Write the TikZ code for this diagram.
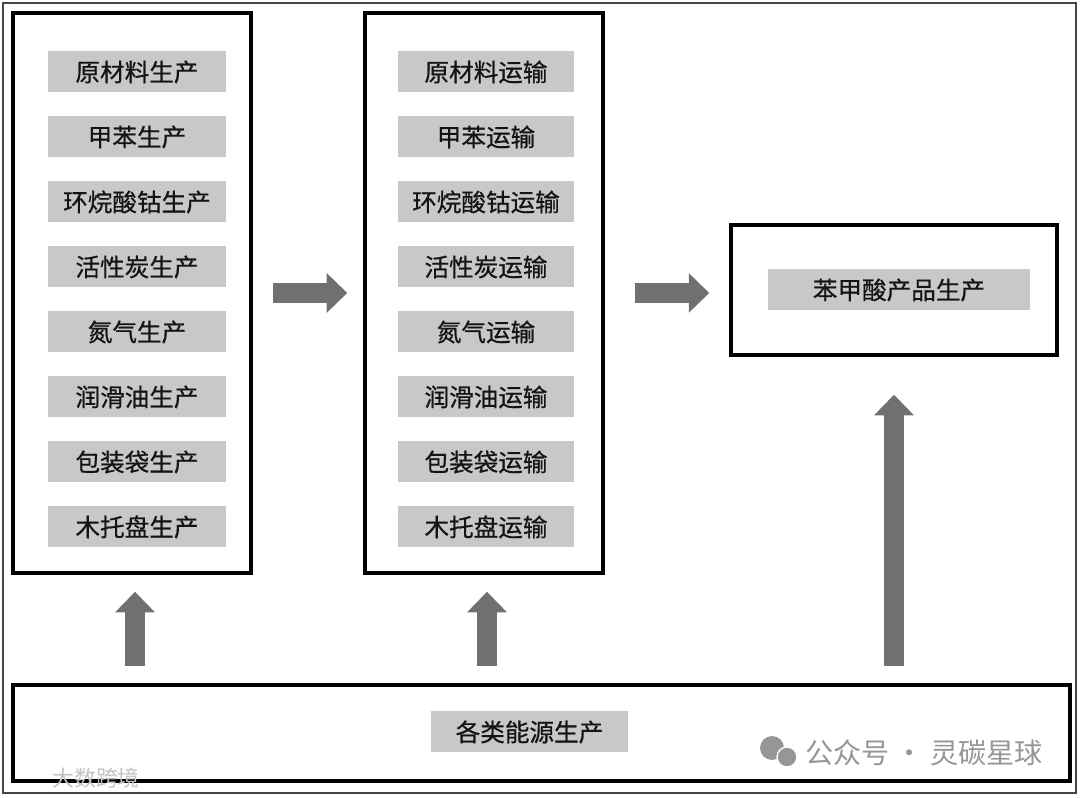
\documentclass[tikz,border=0pt]{standalone}
\usepackage{fontspec}
\usepackage{xcolor}
\usepackage{tikz}
\usetikzlibrary{arrows.meta}
\newfontfamily\cjk[FakeBold=0.6]{Noto Sans CJK SC}
\newfontfamily\cjkthin{Noto Sans CJK SC}
\definecolor{tagfill}{RGB}{200, 200, 200}
\definecolor{arrowgray}{RGB}{112, 112, 112}
\definecolor{framegray}{RGB}{70, 70, 70}
\definecolor{inkblack}{RGB}{20, 20, 20}
\definecolor{markgray}{RGB}{150, 150, 150}
\definecolor{marklight}{RGB}{195, 195, 195}

\tikzset{
  stagebox/.style={draw=black, line width=2pt, inner sep=0pt},
  tag/.style={fill=tagfill, text=inkblack, inner sep=0pt,
    minimum width=3.56cm, minimum height=0.82cm},
  blockarrow/.style={draw=arrowgray, line width=0.39cm,
    -{Triangle[width=0.77cm, length=0.41cm]}},
  watermark/.style={text=markgray, font=\cjkthin\fontsize{16}{18}\selectfont}
}

\begin{document}
\begin{tikzpicture}[font=\cjk\fontsize{14}{16}\selectfont]
        \useasboundingbox (0,0) rectangle (21.6,15.94);
        \draw[framegray, line width=0.8pt] (0.06,0.08) rectangle (21.52,15.88);
        % the four frames
        \node[stagebox, minimum width=4.76cm, minimum height=11.2cm] (leftbox) at (2.64,10.08) {};
        \node[stagebox, minimum width=4.76cm, minimum height=11.2cm] (midbox) at (9.68,10.08) {};
        \node[stagebox, minimum width=6.52cm, minimum height=2.6cm] (prodbox) at (17.88,10.14) {};
        \node[stagebox, minimum width=21.14cm, minimum height=1.92cm] (energybox) at (10.83,1.28) {};
        % stage items
        \foreach \mat [count=\i] in {原材料,甲苯,环烷酸钴,活性炭,氮气,润滑油,包装袋,木托盘} {
          \node[tag] (make\i) at (2.74,15.8-1.3*\i) {\mat 生产};
          \node[tag, minimum width=3.52cm] (move\i) at (9.72,15.8-1.3*\i) {\mat 运输};
        }
        \node[tag, minimum width=5.24cm] (acid) at (17.98,10.14) {苯甲酸产品生产};
        \node[tag, minimum width=3.94cm] (energy) at (10.59,1.3) {各类能源生产};
        % flows
        \draw[blockarrow, shorten <=0.4cm, shorten >=0.32cm] (leftbox.east) -- (midbox.west);
        \draw[blockarrow, shorten <=0.6cm, shorten >=0.4cm] (midbox.east) -- (midbox.east -| prodbox.west);
        \draw[blockarrow, shorten <=0.34cm, shorten >=0.34cm]
          ([xshift=0.06cm]energybox.north -| leftbox.south) -- ([xshift=0.06cm]leftbox.south);
        \draw[blockarrow, shorten <=0.34cm, shorten >=0.34cm]
          ([xshift=0.06cm]energybox.north -| midbox.south) -- ([xshift=0.06cm]midbox.south);
        \draw[blockarrow, shorten <=0.34cm, shorten >=0.76cm]
          (energybox.north -| prodbox.south) -- (prodbox.south);
        % watermarks
        \fill[markgray] (15.44,0.98) circle (0.24);
        \fill[markgray, draw=white, line width=0.8pt] (15.74,0.8) circle (0.2);
        \node[watermark] (wechat) at (18.48,0.88) {公众号 · 灵碳星球};
        \node[text=marklight, font=\cjkthin\fontsize{12.5}{14}\selectfont] (site) at (1.92,0.38) {大数跨境};
      \end{tikzpicture}
\end{document}
